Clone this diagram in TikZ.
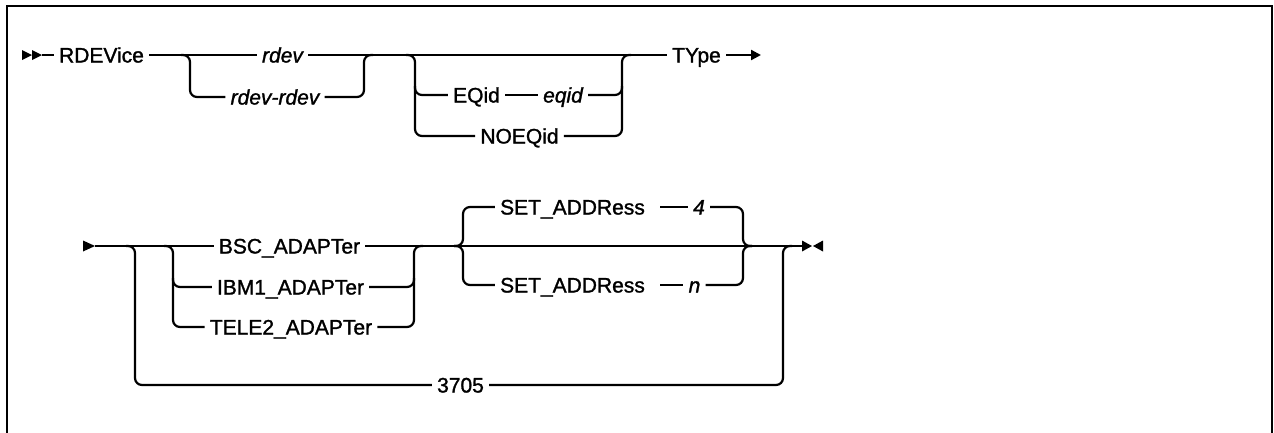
\documentclass[tikz,border=0pt]{standalone}
\usepackage{fontspec}
\setmainfont{Liberation Sans}
\newfontfamily\railfont{Liberation Sans}[FakeBold=1.3]
\usetikzlibrary{arrows.meta}
\begin{document}
\begin{tikzpicture}[x=1pt,y=-1pt,
  rail/.style={line width=2.2pt, rounded corners=7pt},
  lbl/.style={font=\railfont\fontsize{21}{25}\selectfont, inner xsep=5pt, inner ysep=0pt, text height=15pt, text depth=0pt},
  var/.style={lbl, font=\railfont\fontsize{21}{25}\selectfont\itshape},
  tipmark/.style={fill=black, draw=none}]
\useasboundingbox (0,0) rectangle (1274,432);
\clip (0,0) rectangle (1274,432);
\draw[line width=2.6pt] (7,440) -- (7,6) -- (1272,6) -- (1272,440);

% ---------- row 1 ----------
\node[lbl] (rdevice) at (101.5,55) {RDEVice};
\node[var] (rdev) at (282.5,55) {rdev};
\node[var] (rdevr) at (275,97) {rdev-rdev};
\node[lbl] (eqidk) at (476.5,95) {EQid};
\node[var] (eqidv) at (563,95) {eqid};
\node[lbl] (noeqid) at (519.5,136) {NOEQid};
\node[lbl] (type) at (696.5,55) {TYpe};

\coordinate (s1) at (42,55);
\fill[tipmark] (22,50) -- (32,55) -- (22,60) -- cycle;
\fill[tipmark] (32,50) -- (42,55) -- (32,60) -- cycle;
\draw[rail] (s1) -- (rdevice.west);
\draw[rail] (rdevice.east) -- (rdev.west);
\draw[rail] (rdev.east) -- (type.west);
% rdev choice
\draw[rail] (181,55) -- (190,55) -- (190,97) -- (rdevr.west);
\draw[rail] (rdevr.east) -- (364,97) -- (364,55) -- (373,55);
% EQid group
\draw[rail] (406,55) -- (415,55) -- (415,136) -- (noeqid.west);
\draw[rail] (415,86) -- (415,95) -- (eqidk.west);
\draw[rail] (eqidk.east) -- (eqidv.west);
\draw[rail] (eqidv.east) -- (622,95) -- (622,86);
\draw[rail] (noeqid.east) -- (622,136) -- (622,55) -- (631,55);
% arrow after TYpe
\coordinate (t1) at (761,55);
\draw[line width=2.2pt, -{Triangle[length=10pt,width=10pt]}] (type.east) -- (t1);

% ---------- row 2 ----------
\node[lbl] (bsc) at (289.5,246) {BSC\_ADAPTer};
\node[lbl] (ibm) at (290.5,287) {IBM1\_ADAPTer};
\node[lbl] (tele) at (291,327) {TELE2\_ADAPTer};
\node[lbl] (sa4) at (572.5,207) {SET\_ADDRess};
\node[var] (four) at (699,207) {4};
\node[lbl] (san) at (572.5,285) {SET\_ADDRess};
\node[var] (nn) at (694.5,285) {n};
\node[lbl] (n3705) at (460.5,385) {3705};

\coordinate (st2) at (95,246);
\coordinate (e2) at (802,246);
\fill[tipmark] (83,240.5) -- (95,246) -- (83,251.5) -- cycle;
\fill[tipmark] (802,240.5) -- (812,246) -- (802,251.5) -- cycle;
\fill[tipmark] (823,240.5) -- (813,246) -- (823,251.5) -- cycle;
\draw[rail] (st2) -- (bsc.west);
\draw[rail] (bsc.east) -- (e2);
% 3705 branch
\draw[rail] (126,246) -- (135,246) -- (135,385) -- (n3705.west);
\draw[rail] (n3705.east) -- (783,385) -- (783,246) -- (792,246);
% adapter group
\draw[rail] (164,246) -- (173,246) -- (173,327) -- (tele.west);
\draw[rail] (173,278) -- (173,287) -- (ibm.west);
\draw[rail] (ibm.east) -- (414,287) -- (414,278);
\draw[rail] (tele.east) -- (414,327) -- (414,246) -- (423,246);
% SET_ADDRess group
\draw[rail] (454,246) -- (463,246) -- (463,207) -- (sa4.west);
\draw[rail] (454,246) -- (463,246) -- (463,285) -- (san.west);
\draw[rail] ([xshift=10pt]sa4.east) -- (four.west);
\draw[rail] ([xshift=10pt]san.east) -- (nn.west);
\draw[rail] (four.east) -- (743,207) -- (743,246) -- (752,246);
\draw[rail] (nn.east) -- (743,285) -- (743,246) -- (752,246);
\end{tikzpicture}
\end{document}
